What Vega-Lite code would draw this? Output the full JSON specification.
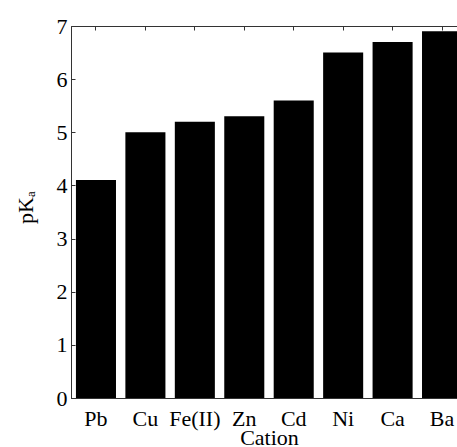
{
  "$schema": "https://vega.github.io/schema/vega-lite/v6.json",
  "width": 396,
  "height": 372,
  "autosize": "none",
  "padding": {"left": 71, "top": 26, "right": 0, "bottom": 49},
  "data": {"values": [
    {"cation": "Pb", "pKa": 4.1},
    {"cation": "Cu", "pKa": 5.0},
    {"cation": "Fe(II)", "pKa": 5.2},
    {"cation": "Zn", "pKa": 5.3},
    {"cation": "Cd", "pKa": 5.6},
    {"cation": "Ni", "pKa": 6.5},
    {"cation": "Ca", "pKa": 6.7},
    {"cation": "Ba", "pKa": 6.9}
  ]},
  "config": {
    "view": {"stroke": "#333333", "strokeWidth": 1},
    "font": "Liberation Serif",
    "axis": {
      "domainColor": "#333333",
      "tickColor": "#333333",
      "labelColor": "black",
      "titleColor": "black",
      "labelFont": "Liberation Serif",
      "titleFont": "Liberation Serif",
      "labelFontSize": 22,
      "titleFontSize": 22,
      "titleFontWeight": "normal",
      "grid": false
    }
  },
  "layer": [
    {
      "mark": {"type": "bar", "color": "black"},
      "encoding": {
        "x": {
          "field": "cation", "type": "nominal", "sort": null,
          "scale": {"paddingInner": 0.19, "paddingOuter": 0.1},
          "axis": {"orient": "bottom", "title": "Cation", "labelAngle": 0, "ticks": false, "labelPadding": 10, "titlePadding": -2}
        },
        "y": {
          "field": "pKa", "type": "quantitative",
          "scale": {"domain": [0, 7], "nice": false},
          "axis": {"title": "pKₐ", "values": [0, 1, 2, 3, 4, 5, 6, 7], "tickSize": -4, "labelPadding": 8, "titlePadding": 19, "titleY": 181}
        }
      }
    },
    {
      "mark": {"type": "bar", "opacity": 0},
      "encoding": {
        "x": {
          "field": "cation", "type": "nominal", "sort": null,
          "axis": {"orient": "top", "labels": false, "title": null, "tickSize": -4, "domain": false}
        }
      }
    }
  ],
  "resolve": {"axis": {"x": "independent"}}
}
